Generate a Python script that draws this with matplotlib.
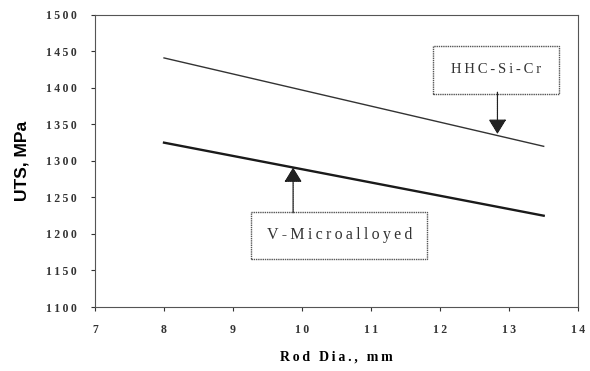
import numpy as np
import matplotlib
matplotlib.use("Agg")
import matplotlib.pyplot as plt
from matplotlib.ticker import FuncFormatter

# data
rod_dia = [8, 13.5]
uts_hhc = [1441, 1320]
uts_vmicro = [1325, 1225]

x_ticks = [7, 8, 9, 10, 11, 12, 13, 14]
y_ticks = [1100, 1150, 1200, 1250, 1300, 1350, 1400, 1450, 1500]

label_hhc = "HHC-Si-Cr"
label_vmicro = "V-Microalloyed"


def spaced(s):
    # the scanned original has wide letter spacing
    return "\u2009".join(s)


fig = plt.figure(figsize=(5.9, 3.71), dpi=100)
ax = fig.add_axes([0.161, 0.1725, 0.819, 0.7875])

ax.plot(rod_dia, uts_hhc, color="#333333", lw=1.0)
ax.plot(rod_dia, uts_vmicro, color="#1a1a1a", lw=1.7)

ax.set_xlim(7, 14)
ax.set_ylim(1100, 1500)
ax.set_xticks(x_ticks)
ax.set_yticks(y_ticks)
fmt = FuncFormatter(lambda v, p: spaced("%d" % v))
ax.xaxis.set_major_formatter(fmt)
ax.yaxis.set_major_formatter(fmt)
ax.tick_params(direction="out", length=3, width=0.8, labelsize=8.5, colors="#333333")
ax.tick_params(axis="x", pad=9)
ax.tick_params(axis="y", pad=10)
for lab in ax.get_xticklabels() + ax.get_yticklabels():
    lab.set_fontfamily("Liberation Serif")
    lab.set_fontweight("bold")
for s in ax.spines.values():
    s.set_color("#555555")
    s.set_linewidth(0.8)

ax.set_xlabel(spaced("Rod Dia., mm"), fontsize=10, fontweight="bold",
              family="Liberation Serif", labelpad=11)
ax.set_ylabel("UTS, MPa", fontsize=12.5, fontweight="bold", family="Liberation Sans")
ax.yaxis.set_label_coords(-0.135, 0.5)

dotted = (0, (1, 0.6))
arrow = dict(arrowstyle="-|>,head_width=0.55,head_length=0.9", color="#222222", lw=0.9,
             ls=dotted, shrinkA=0, shrinkB=0)

# label boxes
ax.text(12.81, 1425, spaced(label_hhc), ha="center", va="center", fontsize=10.5,
        family="Liberation Serif", color="#333333",
        bbox=dict(boxstyle="square,pad=1.2", fc="white", ec="#555555", lw=1.0, ls=dotted))
ax.text(10.54, 1198, spaced(label_vmicro), ha="center", va="center", fontsize=11.5,
        family="Liberation Serif", color="#333333",
        bbox=dict(boxstyle="square,pad=0.95", fc="white", ec="#555555", lw=1.0, ls=dotted))

# vertical arrows from boxes to lines
ax.annotate("", xy=(12.83, 1337), xytext=(12.83, 1394), arrowprops=arrow)
ax.annotate("", xy=(9.87, 1291), xytext=(9.87, 1229), arrowprops=arrow)

fig.savefig("out.png", dpi=100)
